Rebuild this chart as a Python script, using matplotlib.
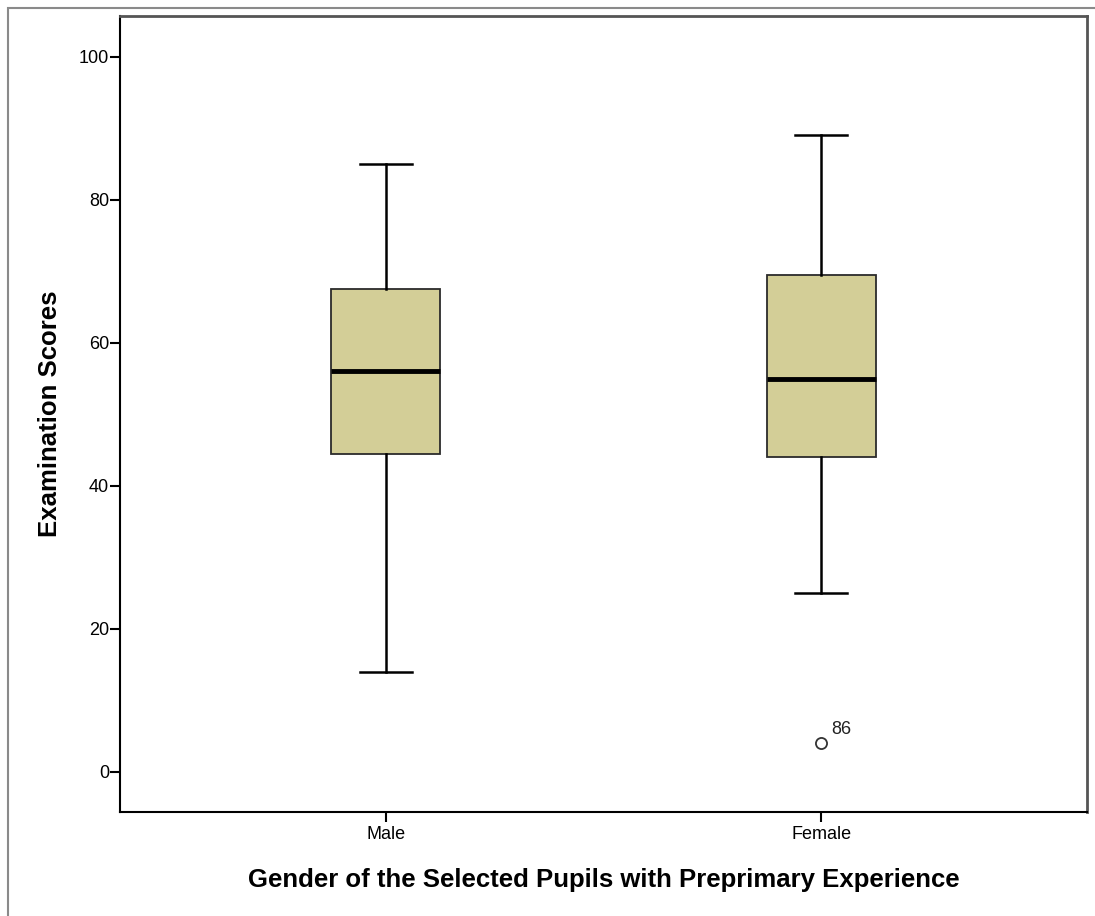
import matplotlib.pyplot as plt
from matplotlib.patches import Rectangle

# Examination scores by gender
groups = ['Male', 'Female']
whisker_low = [14.0, 25.0]
q1 = [44.5, 44.1]
medians = [56.0, 55.0]
q3 = [67.5, 69.5]
whisker_high = [85.0, 89.0]
outliers = [[], [4.0]]
outlier_labels = [[], ['86']]

plt.rcParams['font.family'] = ['Liberation Sans', 'DejaVu Sans']

fig = plt.figure(figsize=(10.95, 9.16), dpi=100)
ax = fig.add_axes([120 / 1095, 1 - 812 / 916, 967 / 1095, 796 / 916])

# outer frame of the SPSS output
fig.patches.append(Rectangle((8 / 1095, -0.01), 1.0, 1 - 8 / 916 + 0.01,
                             transform=fig.transFigure, fill=False,
                             edgecolor='#8a8a8a', linewidth=1.5))

stats = []
for i, g in enumerate(groups):
    stats.append({'label': g, 'whislo': whisker_low[i], 'q1': q1[i], 'med': medians[i],
                  'q3': q3[i], 'whishi': whisker_high[i], 'fliers': outliers[i]})

positions = [1, 2]
ax.bxp(stats, positions=positions, widths=0.25, patch_artist=True,
       boxprops=dict(facecolor='#d3ce97', edgecolor='#2b2b2b', linewidth=1.3),
       medianprops=dict(color='black', linewidth=3.5),
       whiskerprops=dict(color='black', linewidth=1.8),
       capprops=dict(color='black', linewidth=1.8),
       capwidths=0.12,
       flierprops=dict(marker='o', markerfacecolor='white', markeredgecolor='#333333',
                       markersize=8, markeredgewidth=1.3))

for i, pos in enumerate(positions):
    for val, lab in zip(outliers[i], outlier_labels[i]):
        ax.annotate(lab, (pos, val), xytext=(7, 7), textcoords='offset points',
                    fontsize=13, color='#222222')

ax.set_xlim(0.39, 2.61)
ax.set_ylim(-5.6, 105.7)
ax.set_yticks([0, 20, 40, 60, 80, 100])
ax.set_xticks(positions)
ax.set_xticklabels(groups)
ax.tick_params(axis='both', direction='out', length=7, width=1.5, labelsize=13, colors='black')
ax.tick_params(axis='y', pad=1)
ax.tick_params(axis='x', pad=3)

for side in ['left', 'bottom']:
    ax.spines[side].set_color('black')
    ax.spines[side].set_linewidth(1.5)
for side in ['top', 'right']:
    ax.spines[side].set_color('#555555')
    ax.spines[side].set_linewidth(2)

ax.set_xlabel('Gender of the Selected Pupils with Preprimary Experience',
              fontsize=18.5, fontweight='bold', labelpad=18)
ax.set_ylabel('Examination Scores', fontsize=18.5, fontweight='bold', labelpad=12)

fig.savefig('out.png', dpi=100)
